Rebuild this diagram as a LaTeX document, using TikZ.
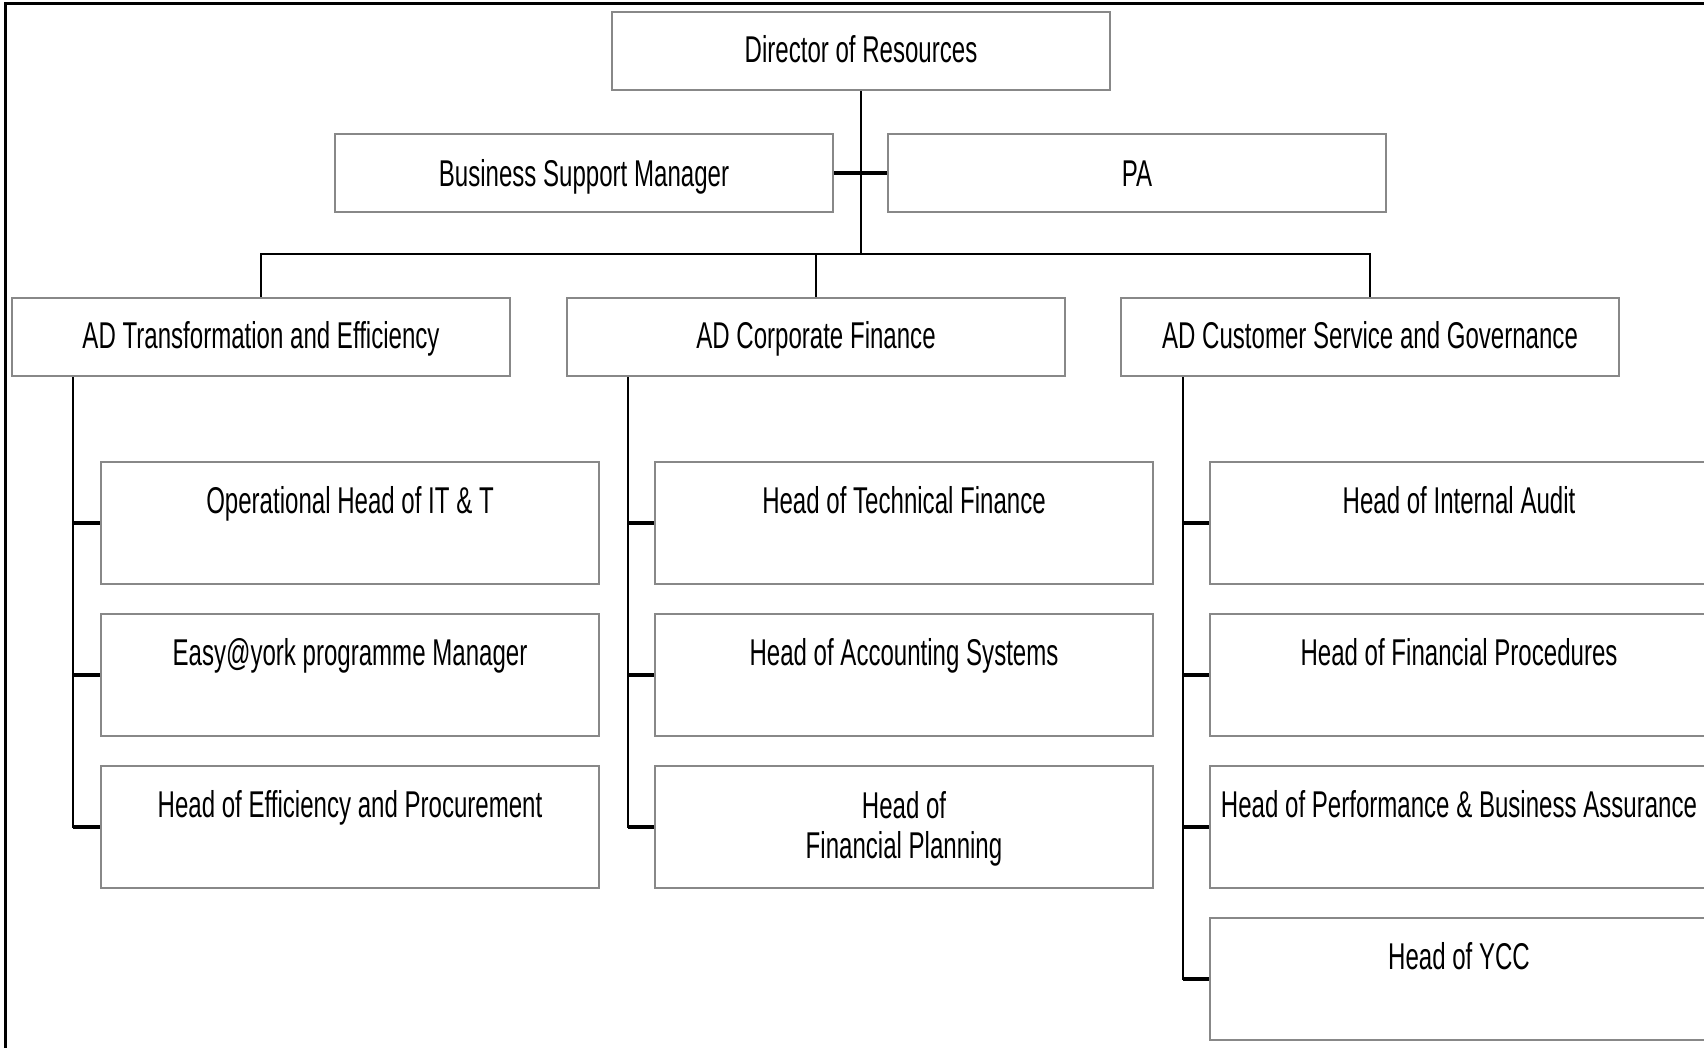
\documentclass[tikz,border=0pt]{standalone}
\usepackage{fontspec}
\setmainfont{Liberation Sans}[FakeStretch=0.645]
\definecolor{boxgray}{RGB}{136,136,136}
\begin{document}
\begin{tikzpicture}[x=1pt,y=-1pt,
  box/.style={draw=boxgray, line width=2.5pt, fill=white, minimum width=498pt, inner sep=0pt, outer sep=0pt, anchor=north west},
  headbox/.style={box, minimum height=78pt},
  subbox/.style={box, minimum height=122pt},
  lbl/.style={anchor=base, inner sep=0pt, font=\fontsize{37.3}{40}\selectfont},
  conn/.style={line width=2.5pt, line cap=rect},
  tee/.style={line width=4pt},
  frame/.style={line width=3pt}]
\useasboundingbox (0,0) rectangle (1704,1047);
\clip (0,0) rectangle (1704,1047);

% outer frame (right and bottom sides lie beyond the picture)
\draw[frame] (5,3.5) rectangle (1780,1120);

% boxes
\node[headbox] (dir) at (612,12) {};
\node[headbox] (bsm) at (335,134) {};
\node[headbox] (pa)  at (888,134) {};
\node[headbox] (ad1) at (12,298) {};
\node[headbox] (ad2) at (567,298) {};
\node[headbox] (ad3) at (1121,298) {};

\node[subbox] (s11) at (101,462) {};
\node[subbox] (s12) at (101,614) {};
\node[subbox] (s13) at (101,766) {};
\node[subbox] (s21) at (655,462) {};
\node[subbox] (s22) at (655,614) {};
\node[subbox] (s23) at (655,766) {};
\node[subbox] (s31) at (1210,462) {};
\node[subbox] (s32) at (1210,614) {};
\node[subbox] (s33) at (1210,766) {};
\node[subbox] (s34) at (1210,918) {};

% connectors
\coordinate (bus) at (861,254);
\coordinate (v1) at (73,377);
\coordinate (v2) at (628,377);
\coordinate (v3) at (1183,377);
\begin{scope}[on background layer/.style={}]
\draw[conn] (dir.south) -- (dir.south |- bus);
\draw[conn] (ad1.north |- bus) -- (ad3.north |- bus);
\draw[conn] (ad1.north |- bus) -- (ad1.north);
\draw[conn] (ad2.north |- bus) -- (ad2.north);
\draw[conn] (ad3.north |- bus) -- (ad3.north);
\draw[tee] (bsm.east) -- (pa.west);
\draw[conn] (v1) -- (v1 |- s13.west);
\draw[conn] (v2) -- (v2 |- s23.west);
\draw[conn] (v3) -- (v3 |- s34.west);
\foreach \s in {s11,s12,s13}{\draw[tee] (v1 |- \s.west) -- (\s.west);}
\foreach \s in {s21,s22,s23}{\draw[tee] (v2 |- \s.west) -- (\s.west);}
\foreach \s in {s31,s32,s33,s34}{\draw[tee] (v3 |- \s.west) -- (\s.west);}
\end{scope}

% redraw box borders on top of connector ends
\foreach \b in {dir,bsm,pa,ad1,ad2,ad3,s11,s12,s13,s21,s22,s23,s31,s32,s33,s34}{
  \draw[draw=boxgray, line width=2.5pt] (\b.north west) rectangle (\b.south east);}

% texts
\node[lbl, yshift=-50pt] (t-dir) at (dir.north) {Director of Resources};
\node[lbl, yshift=-52pt] (t-bsm) at (bsm.north) {Business Support Manager};
\node[lbl, yshift=-52pt] (t-pa)  at (pa.north)  {PA};
\node[lbl, yshift=-50pt] (t-ad1) at (ad1.north) {AD Transformation and Efficiency};
\node[lbl, yshift=-50pt] (t-ad2) at (ad2.north) {AD Corporate Finance};
\node[lbl, yshift=-50pt] (t-ad3) at (ad3.north) {AD Customer Service and Governance};

\node[lbl, yshift=-51pt] (t-s11) at (s11.north) {Operational Head of IT \& T};
\node[lbl, yshift=-51pt] (t-s12) at (s12.north) {Easy@york programme Manager};
\node[lbl, yshift=-51pt] (t-s13) at (s13.north) {Head of Efficiency and Procurement};
\node[lbl, yshift=-51pt] (t-s21) at (s21.north) {Head of Technical Finance};
\node[lbl, yshift=-51pt] (t-s22) at (s22.north) {Head of Accounting Systems};
\node[lbl, yshift=-24.8pt, anchor=north, align=center] (t-s23) at (s23.north) {Head of\\Financial Planning};
\node[lbl, yshift=-51pt] (t-s31) at (s31.north) {Head of Internal Audit};
\node[lbl, yshift=-51pt] (t-s32) at (s32.north) {Head of Financial Procedures};
\node[lbl, yshift=-51pt] (t-s33) at (s33.north) {Head of Performance \& Business Assurance};
\node[lbl, yshift=-51pt] (t-s34) at (s34.north) {Head of YCC};
\end{tikzpicture}
\end{document}
